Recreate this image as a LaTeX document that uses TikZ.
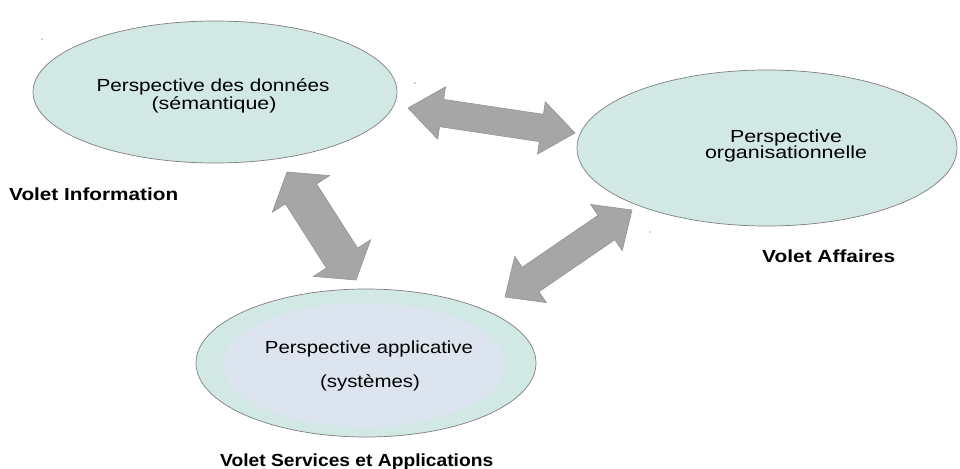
\documentclass[tikz,border=0pt]{standalone}
\usepackage{fontspec}
\setmainfont{Liberation Sans}
\usetikzlibrary{shapes.geometric,calc}
\definecolor{ellfill}{HTML}{D2E8E5}
\definecolor{innerfill}{HTML}{DCE4F0}
\definecolor{ellline}{HTML}{7F7F7F}
\definecolor{arrfill}{HTML}{A6A6A6}
\definecolor{arrline}{HTML}{939393}
\newcommand{\wfit}[2]{\resizebox{#1}{\height}{#2}}
\newcommand{\blockarrow}[6]{%
  \coordinate (#1-ha) at ($(#2)!#6!(#3)$);
  \coordinate (#1-hb) at ($(#3)!#6!(#2)$);
  \filldraw[blockarr] (#2) -- ($(#1-ha)!#5!90:(#3)$) -- ($(#1-ha)!#4!90:(#3)$)
    -- ($(#1-hb)!#4!-90:(#2)$) -- ($(#1-hb)!#5!-90:(#2)$) -- (#3)
    -- ($(#1-hb)!#5!90:(#2)$) -- ($(#1-hb)!#4!90:(#2)$)
    -- ($(#1-ha)!#4!-90:(#3)$) -- ($(#1-ha)!#5!-90:(#3)$) -- cycle;}
\begin{document}
\begin{tikzpicture}[x=1pt,y=-1pt,
  ell/.style={ellipse, draw=ellline, line width=0.7pt, fill=ellfill, inner sep=0pt},
  inner/.style={ellipse, fill=innerfill, inner sep=0pt},
  ptxt/.style={inner sep=0pt, anchor=base, font=\fontsize{17.5}{20}\selectfont, text=black},
  vtxt/.style={inner sep=0pt, anchor=base west, font=\fontsize{17.5}{20}\selectfont\bfseries, text=black},
  blockarr/.style={fill=arrfill, draw=arrline, line width=0.6pt, line join=miter},
  speck/.style={fill=gray!70}]
\useasboundingbox (0,0) rectangle (960,468);
\fill[white] (0,0) rectangle (960,468);

% ellipses
\node[ell, minimum width=364pt, minimum height=142pt] (donnees) at (215,92) {};
\node[ell, minimum width=380pt, minimum height=156pt] (orga) at (767,148) {};
\node[ell, minimum width=340pt, minimum height=148pt] (appli) at (366,363) {};
\node[inner, minimum width=282pt, minimum height=124pt] (appliin) at (364,365) {};

% ellipse texts
\node[ptxt] (t1a) at (213,92) {\wfit{233pt}{Perspective des données}};
\node[ptxt] (t1b) at (214,110) {\wfit{125pt}{(sémantique)}};
\node[ptxt] (t2a) at (786,142) {\wfit{112pt}{Perspective}};
\node[ptxt] (t2b) at (786,158) {\wfit{162pt}{organisationnelle}};
\node[ptxt] (t3a) at (369,353) {\wfit{208pt}{Perspective applicative}};
\node[ptxt] (t3b) at (370,387) {\wfit{100pt}{(systèmes)}};

% volet labels
\node[vtxt] (v1) at (9,200) {\wfit{169pt}{Volet Information}};
\node[vtxt] (v2) at (762,262) {\wfit{133pt}{Volet Affaires}};
\node[vtxt] (v3) at (220,466) {\wfit{273pt}{Volet Services et Applications}};

% arrow tips
\coordinate (a1) at (408,108);
\coordinate (a2) at (575,133);
\coordinate (b1) at (287,172);
\coordinate (b2) at (356,280);
\coordinate (c1) at (505,297);
\coordinate (c2) at (632,210);
\blockarrow{arrA}{a1}{a2}{13.8pt}{26.5pt}{34pt}
\blockarrow{arrB}{b1}{b2}{18.5pt}{34pt}{26pt}
\blockarrow{arrC}{c1}{c2}{14.8pt}{28pt}{31pt}

% small specks
\fill[speck] (42,39) circle (0.9);
\fill[speck] (415,83) circle (0.9);
\fill[speck] (650,232) circle (0.9);
\end{tikzpicture}
\end{document}
